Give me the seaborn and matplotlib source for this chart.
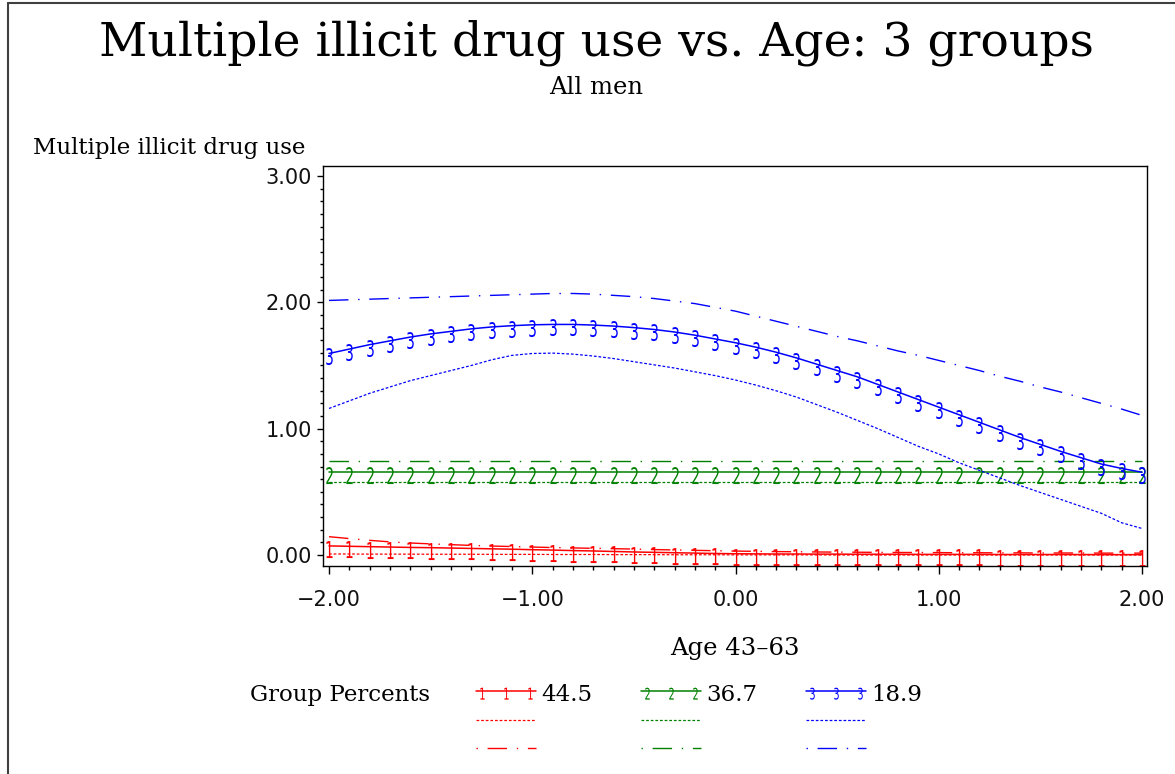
import numpy as np
import pandas as pd
import matplotlib
matplotlib.use("Agg")
import matplotlib.pyplot as plt
import seaborn as sns
from matplotlib.lines import Line2D
from matplotlib.textpath import TextPath
from matplotlib.font_manager import FontProperties
from matplotlib.transforms import Affine2D
from matplotlib.ticker import MultipleLocator, FixedLocator

#############################################################################
# data (age is standardised, -2 .. 2 in steps of .1)
#############################################################################

age = [-2.0, -1.9, -1.8, -1.7, -1.6, -1.5, -1.4, -1.3, -1.2, -1.1,
       -1.0, -0.9, -0.8, -0.7, -0.6, -0.5, -0.4, -0.3, -0.2, -0.1,
       0.0, 0.1, 0.2, 0.3, 0.4, 0.5, 0.6, 0.7, 0.8, 0.9,
       1.0, 1.1, 1.2, 1.3, 1.4, 1.5, 1.6, 1.7, 1.8, 1.9, 2.0]

# group 1 (red)
g1_pred = [0.072, 0.069, 0.066, 0.063, 0.060, 0.058, 0.055, 0.052, 0.049, 0.046,
           0.042, 0.039, 0.035, 0.032, 0.028, 0.024, 0.021, 0.018, 0.015, 0.012,
           0.010, 0.009, 0.008, 0.008, 0.007, 0.007, 0.006, 0.006, 0.006, 0.005,
           0.005, 0.005, 0.005, 0.004, 0.004, 0.004, 0.004, 0.004, 0.003, 0.003, 0.003]
g1_low = [0.008, 0.008, 0.007, 0.007, 0.007, 0.006, 0.006, 0.006, 0.005, 0.005,
          0.005, 0.004, 0.004, 0.004, 0.003, 0.003, 0.003, 0.002, 0.002, 0.002,
          0.001, 0.001, 0.001, 0.001, 0.001, 0.000, 0.000, 0.000, 0.000, 0.000,
          0.000, 0.000, 0.000, 0.000, 0.000, 0.000, 0.000, 0.000, 0.000, 0.000, 0.000]
g1_high = [0.145, 0.130, 0.116, 0.104, 0.095, 0.088, 0.082, 0.076, 0.071, 0.067,
           0.063, 0.059, 0.056, 0.053, 0.050, 0.047, 0.043, 0.040, 0.037, 0.034,
           0.031, 0.029, 0.027, 0.026, 0.024, 0.023, 0.022, 0.021, 0.020, 0.020,
           0.019, 0.018, 0.018, 0.017, 0.017, 0.016, 0.016, 0.016, 0.015, 0.015, 0.015]

# group 2 (green) is flat
g2_pred = [0.66] * len(age)
g2_low = [0.58] * len(age)
g2_high = [0.745] * len(age)

# group 3 (blue)
g3_pred = [1.595, 1.630, 1.665, 1.695, 1.725, 1.750, 1.770, 1.790, 1.805, 1.815,
           1.822, 1.825, 1.825, 1.820, 1.812, 1.800, 1.785, 1.765, 1.740, 1.710,
           1.680, 1.645, 1.605, 1.560, 1.510, 1.460, 1.410, 1.350, 1.290, 1.230,
           1.170, 1.110, 1.050, 0.990, 0.930, 0.875, 0.820, 0.770, 0.720, 0.685, 0.655]
g3_low = [1.160, 1.220, 1.280, 1.330, 1.380, 1.420, 1.460, 1.500, 1.545, 1.580,
          1.595, 1.598, 1.590, 1.575, 1.555, 1.530, 1.505, 1.480, 1.450, 1.420,
          1.385, 1.345, 1.300, 1.250, 1.190, 1.130, 1.065, 1.000, 0.930, 0.860,
          0.800, 0.730, 0.670, 0.610, 0.550, 0.495, 0.440, 0.385, 0.330, 0.255, 0.210]
g3_high = [2.015, 2.020, 2.025, 2.030, 2.035, 2.040, 2.045, 2.050, 2.055, 2.060,
           2.065, 2.070, 2.070, 2.065, 2.055, 2.045, 2.030, 2.010, 1.990, 1.960,
           1.930, 1.890, 1.850, 1.810, 1.770, 1.730, 1.695, 1.655, 1.615, 1.580,
           1.540, 1.500, 1.460, 1.415, 1.375, 1.330, 1.290, 1.245, 1.200, 1.155, 1.105]

groups = ['1', '2', '3']
group_pct = ['44.5', '36.7', '18.9']
colors = {'1': '#ff0000', '2': '#008000', '3': '#0000ff'}

xticks = [-2, -1, 0, 1, 2]
xtick_labels = ['\u22122.00', '\u22121.00', '0.00', '1.00', '2.00']
yticks = [0, 1, 2, 3]
ytick_labels = ['0.00', '1.00', '2.00', '3.00']

rows = []
for g, pred, low, high in [('1', g1_pred, g1_low, g1_high),
                           ('2', g2_pred, g2_low, g2_high),
                           ('3', g3_pred, g3_low, g3_high)]:
    for a, p, l, h in zip(age, pred, low, high):
        rows.append({'group': g, 'age': a, 'pred': p, 'low': l, 'high': h})
df = pd.DataFrame(rows)

#############################################################################
# styling
#############################################################################

sns.set_style("ticks")
plt.rcParams['font.family'] = ['DejaVu Serif']
plt.rcParams['text.color'] = 'black'
plt.rcParams['axes.labelcolor'] = 'black'
plt.rcParams['xtick.color'] = 'black'
plt.rcParams['ytick.color'] = 'black'
serif = ['DejaVu Serif']
sans = ['DejaVu Sans']

W, H = 1175, 774
fig = plt.figure(figsize=(W / 100, H / 100), dpi=100)

def fx(px):
    return px / W

def fy(py):
    return 1 - py / H

# axes frame in pixels: left 323, right 1147, top 166, bottom 566
ax = fig.add_axes([fx(322.7), fy(566), fx(1146.7) - fx(322.7), fy(166) - fy(566)])

def glyph_marker(ch, narrow=0.6, above=0.32):
    # SAS-like digit symbol: narrow glyph hanging from the curve
    tp = TextPath((0, 0), ch, size=1, prop=FontProperties(family=sans))
    ext = tp.get_extents()
    h = ext.height
    tr = Affine2D().translate(-(ext.x0 + ext.width / 2), -ext.y1 + above * h).scale(narrow / h, 1 / h)
    path = tr.transform_path(tp)
    scale = 2 * np.max(np.abs(path.vertices))
    return path, scale

dotted = (0, (2.2, 1.5))
dashdot = (0, (14, 7, 1, 7))

glyph_px = 17
for g in groups:
    sub = df[df['group'] == g]
    path, scale = glyph_marker(g)
    ms = glyph_px * 0.72 * scale
    sns.lineplot(data=sub, x='age', y='pred', ax=ax, color=colors[g], lw=1.1,
                 marker=path, markersize=ms, markeredgewidth=0,
                 markerfacecolor=colors[g], errorbar=None, legend=False)
    sns.lineplot(data=sub, x='age', y='low', ax=ax, color=colors[g], lw=0.9,
                 linestyle=dotted, errorbar=None, legend=False)
    sns.lineplot(data=sub, x='age', y='high', ax=ax, color=colors[g], lw=1.0,
                 linestyle=dashdot, errorbar=None, legend=False)

ax.set_xlim(-2.031, 2.023)
ax.set_ylim(-0.087, 3.079)

ax.xaxis.set_major_locator(FixedLocator(xticks))
ax.xaxis.set_minor_locator(MultipleLocator(0.1))
ax.yaxis.set_major_locator(FixedLocator(yticks))
ax.yaxis.set_minor_locator(MultipleLocator(0.1))
ax.set_xticklabels(xtick_labels, fontsize=15, family=sans, color='#111111')
ax.set_yticklabels(ytick_labels, fontsize=15, family=sans, color='#111111')
ax.tick_params(axis='x', which='major', length=5.8, width=1, pad=11.5, direction='out')
ax.tick_params(axis='x', which='minor', length=3.2, width=1, direction='out')
ax.tick_params(axis='y', which='major', length=4.3, width=1, pad=3.4, direction='out')
ax.tick_params(axis='y', which='minor', length=2.2, width=1, direction='out')
for s in ax.spines.values():
    s.set_visible(True)
    s.set_linewidth(1.0)
    s.set_color('black')

ax.set_xlabel('Age 43\u201363', fontsize=17.5, family=serif)
ax.xaxis.set_label_coords(0.5004, -0.205)
ax.xaxis.label.set_va('center')
ax.set_ylabel('Multiple illicit drug use', fontsize=16.5, family=serif,
              rotation=0, ha='left', va='center')
ax.yaxis.set_label_coords((33 - 322.7) / 824, (566 - 148) / 400)

fig.text(fx(596), fy(43), 'Multiple illicit drug use vs. Age: 3 groups',
         fontsize=34, family=serif, ha='center', va='center')
fig.text(fx(596), fy(88), 'All men', fontsize=17.5, family=serif,
         ha='center', va='center')

#############################################################################
# legend: group percents, three rows of keys
#############################################################################

fig.text(fx(250), fy(695), 'Group Percents', fontsize=16.5, family=serif,
         ha='left', va='center')
key_left = [476, 641, 806]
row_y = [691, 720, 748]
for g, pct, x0 in zip(groups, group_pct, key_left):
    c = colors[g]
    path, scale = glyph_marker(g)
    fig.add_artist(Line2D([fx(x0), fx(x0 + 60)], [fy(row_y[0])] * 2, color=c, lw=1.1,
                          transform=fig.transFigure))
    fig.add_artist(Line2D([fx(x0 + 6), fx(x0 + 30), fx(x0 + 54)], [fy(row_y[0])] * 3,
                          lw=0, marker=path, markersize=12 * 0.72 * scale,
                          markeredgewidth=0, markerfacecolor=c,
                          transform=fig.transFigure))
    fig.add_artist(Line2D([fx(x0), fx(x0 + 60)], [fy(row_y[1])] * 2, color=c, lw=0.9,
                          linestyle=dotted, transform=fig.transFigure))
    fig.add_artist(Line2D([fx(x0), fx(x0 + 60)], [fy(row_y[2])] * 2, color=c, lw=1.0,
                          linestyle=(21, (14, 7, 1, 7)), transform=fig.transFigure))
    fig.text(fx(x0 + 65), fy(695), pct, fontsize=16.5, family=serif,
             ha='left', va='center')

# page border (top and left only visible)
fig.add_artist(Line2D([fx(8), fx(W)], [fy(3), fy(3)], color='#404040', lw=1.5,
                      transform=fig.transFigure))
fig.add_artist(Line2D([fx(8), fx(8)], [fy(3), fy(H)], color='#404040', lw=1.5,
                      transform=fig.transFigure))

fig.savefig('out.png', dpi=100)
